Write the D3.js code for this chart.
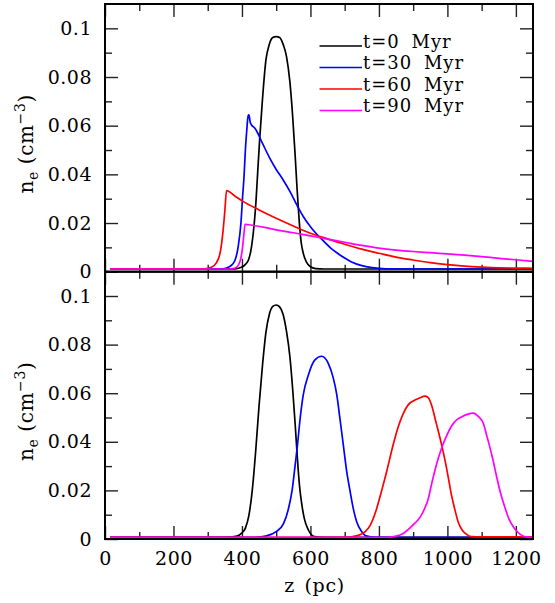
<!DOCTYPE html>
<html><head><meta charset="utf-8">
<script src="https://cdn.jsdelivr.net/npm/d3@7"></script>
<style>
body{margin:0;background:#fff}
text{font-family:"DejaVu Serif",serif;fill:#000}
</style>
</head><body>
<svg id="c" width="555" height="603"></svg>
<script>
// ---------- data ----------
const seriesLabels = ["t=0 Myr", "t=30 Myr", "t=60 Myr", "t=90 Myr"];
const seriesColors = ["#000000", "#0000ff", "#ff0000", "#ff00ff"];

const xMajorTicks = [0, 200, 400, 600, 800, 1000, 1200];
const xMinorTicks = [100, 300, 500, 700, 900, 1100];
const yMajorTicks = [0, 0.02, 0.04, 0.06, 0.08, 0.1];
const yTickLabels = ["0", "0.02", "0.04", "0.06", "0.08", "0.1"];
const yMinorTicks = [0.01, 0.03, 0.05, 0.07, 0.09];

// top panel: z (pc), n_e (cm^-3)
const topT0 = [[15,0.0011],[300,0.0011],[380,0.0012],[400,0.0019],[410,0.003],[419,0.0048],[428,0.0103],[436,0.02],[441,0.029],[446,0.041],[452,0.055],[460,0.071],[470,0.087],[480,0.0935],[490,0.0962],[500,0.0966],[510,0.0962],[520,0.0935],[530,0.0885],[540,0.078],[548,0.064],[555,0.0486],[561,0.034],[567,0.0212],[573,0.012],[579,0.0076],[588,0.004],[600,0.002],[615,0.0013],[640,0.0011],[1250,0.0011]];
const topT30 = [[15,0.0011],[320,0.0011],[345,0.0012],[360,0.0018],[372,0.003],[380,0.0048],[389,0.0103],[397,0.02],[402,0.031],[406,0.039],[410,0.05],[414,0.058],[417,0.063],[419,0.0644],[421,0.0641],[424,0.0615],[428,0.0603],[432,0.0597],[438,0.0589],[460,0.0527],[480,0.047],[500,0.042],[520,0.0378],[540,0.033],[560,0.0275],[580,0.0225],[600,0.0185],[620,0.0152],[640,0.0124],[660,0.0096],[680,0.0075],[700,0.0056],[720,0.004],[750,0.0025],[780,0.0017],[820,0.0012],[900,0.0011],[1250,0.0011]];
const topT60 = [[15,0.0011],[290,0.0012],[311,0.0018],[324,0.0034],[336,0.0076],[345,0.0171],[350,0.025],[355,0.0333],[380,0.031],[404,0.0288],[450,0.0254],[500,0.022],[550,0.0188],[600,0.0158],[650,0.0135],[700,0.0113],[750,0.0093],[800,0.0076],[850,0.006],[900,0.0048],[950,0.0037],[1000,0.0029],[1050,0.0023],[1100,0.0019],[1150,0.0016],[1200,0.0015],[1250,0.0014]];
const topT90 = [[15,0.0011],[360,0.0011],[380,0.0015],[394,0.0041],[402,0.0103],[406,0.0158],[409,0.0195],[420,0.0193],[467,0.0182],[500,0.0172],[550,0.016],[600,0.0147],[650,0.0134],[700,0.0121],[750,0.0108],[800,0.0097],[850,0.0089],[900,0.0083],[950,0.0078],[1000,0.0073],[1050,0.0068],[1100,0.0062],[1150,0.0055],[1200,0.0049],[1250,0.0042]];

// bottom panel
const botT0 = [[15,0.0007],[350,0.0007],[385,0.0012],[400,0.0025],[410,0.0045],[420,0.0095],[430,0.0199],[440,0.036],[450,0.055],[460,0.0715],[470,0.085],[480,0.0925],[490,0.0957],[500,0.0963],[510,0.0955],[520,0.0925],[530,0.0855],[540,0.075],[549,0.06],[556,0.046],[562,0.033],[568,0.022],[575,0.014],[582,0.0085],[594,0.0037],[612,0.001],[640,0.0007],[1250,0.0007]];
const botT30 = [[15,0.0007],[440,0.0007],[472,0.0013],[500,0.003],[521,0.0062],[535,0.012],[547,0.0205],[555,0.03],[562,0.0385],[570,0.0497],[579,0.0593],[594,0.0675],[613,0.0737],[633,0.0752],[652,0.0723],[667,0.0661],[677,0.0593],[686,0.0497],[696,0.0387],[706,0.0277],[716,0.0195],[725,0.0126],[735,0.0071],[750,0.003],[762,0.0013],[790,0.0007],[1250,0.0007]];
const botT60 = [[15,0.0007],[700,0.0007],[740,0.0015],[760,0.003],[774,0.0055],[790,0.011],[808,0.0199],[823,0.028],[842,0.039],[856,0.046],[871,0.0516],[886,0.0553],[900,0.0568],[918,0.058],[935,0.0588],[945,0.058],[955,0.0545],[965,0.049],[975,0.0435],[986,0.037],[995,0.031],[1003,0.025],[1012,0.018],[1022,0.012],[1032,0.0068],[1044,0.0035],[1058,0.0017],[1071,0.001],[1100,0.0009],[1250,0.0009]];
const botT90 = [[15,0.0007],[820,0.0007],[850,0.0012],[871,0.0023],[890,0.0045],[905,0.0065],[920,0.0089],[935,0.013],[944,0.0165],[954,0.0227],[964,0.0285],[975,0.034],[986,0.0385],[1000,0.0432],[1010,0.046],[1020,0.048],[1030,0.0493],[1045,0.0505],[1060,0.0514],[1075,0.0518],[1090,0.0505],[1105,0.0475],[1115,0.0425],[1124,0.0378],[1134,0.032],[1144,0.0255],[1155,0.019],[1168,0.013],[1180,0.0082],[1195,0.0045],[1212,0.002],[1228,0.0009],[1250,0.0007]];

const topSeries = [topT0, topT30, topT60, topT90];
const botSeries = [botT0, botT30, botT60, botT90];

// ---------- layout ----------
const svg = d3.select("#c");
const L = 105, R = 533;
const panels = [
  {top: 4, bottom: 271.7, series: topSeries, labels: false, legend: true},
  {top: 271.7, bottom: 539, series: botSeries, labels: true, legend: false}
];
const x = d3.scaleLinear().domain([0, 1250]).range([L, R]);
const FS = 19, MAJ = 13, MIN = 7;

function styleAxis(g) {
  g.select(".domain").remove();
  g.selectAll(".tick line").attr("stroke", "#222").attr("stroke-width", 1.4);
  g.selectAll(".tick text").attr("font-family", '"DejaVu Serif", serif').attr("font-size", FS)
    .attr("letter-spacing", 0.5).attr("fill", "#000");
}

panels.forEach((p, pi) => {
  const y = d3.scaleLinear().domain([0, 0.11]).range([p.bottom, p.top]);

  // left
  svg.append("g").attr("transform", `translate(${L},0)`)
    .call(d3.axisLeft(y).tickValues(yMajorTicks).tickSize(-MAJ).tickPadding(13)
      .tickFormat((d, i) => yTickLabels[i])).call(styleAxis);
  svg.append("g").attr("transform", `translate(${L},0)`)
    .call(d3.axisLeft(y).tickValues(yMinorTicks).tickSize(-MIN).tickFormat("")).call(styleAxis);
  // right
  svg.append("g").attr("transform", `translate(${R},0)`)
    .call(d3.axisRight(y).tickValues(yMajorTicks).tickSize(-MAJ).tickFormat("")).call(styleAxis);
  svg.append("g").attr("transform", `translate(${R},0)`)
    .call(d3.axisRight(y).tickValues(yMinorTicks).tickSize(-MIN).tickFormat("")).call(styleAxis);
  // top
  svg.append("g").attr("transform", `translate(0,${p.top})`)
    .call(d3.axisTop(x).tickValues(xMajorTicks).tickSize(-MAJ).tickFormat("")).call(styleAxis);
  svg.append("g").attr("transform", `translate(0,${p.top})`)
    .call(d3.axisTop(x).tickValues(xMinorTicks).tickSize(-MIN).tickFormat("")).call(styleAxis);
  // bottom
  svg.append("g").attr("transform", `translate(0,${p.bottom})`)
    .call(d3.axisBottom(x).tickValues(xMajorTicks).tickSize(-MAJ).tickPadding(13)
      .tickFormat(p.labels ? d3.format("d") : "")).call(styleAxis);
  svg.append("g").attr("transform", `translate(0,${p.bottom})`)
    .call(d3.axisBottom(x).tickValues(xMinorTicks).tickSize(-MIN).tickFormat("")).call(styleAxis);

  // clip
  const cid = "clip" + pi;
  svg.append("clipPath").attr("id", cid).append("rect")
    .attr("x", L).attr("y", p.top).attr("width", R - L).attr("height", p.bottom - p.top);

  const line = d3.line().x(d => x(d[0])).y(d => y(d[1])).curve(d3.curveMonotoneX);
  svg.append("g").attr("clip-path", `url(#${cid})`)
    .selectAll("path").data(p.series).join("path")
    .attr("d", line).attr("fill", "none")
    .attr("stroke", (d, i) => seriesColors[i]).attr("stroke-width", 1.7);

  // y label
  const cy = (p.top + p.bottom) / 2 + 6;
  const t = svg.append("text").attr("transform", `translate(33,${cy}) rotate(-90)`)
    .attr("text-anchor", "middle").attr("font-size", 20).attr("letter-spacing", 0.6);
  t.append("tspan").text("n");
  t.append("tspan").attr("font-size", 14).attr("dy", 5).text("e");
  t.append("tspan").attr("dy", -5).text("\u00a0(cm");
  t.append("tspan").attr("font-size", 14).attr("dy", -8).text("\u22123");
  t.append("tspan").attr("dy", 8).text(")");

  if (p.legend) {
    const lg = svg.append("g");
    seriesLabels.forEach((s, i) => {
      const yy = 46 + i * 21.5;
      lg.append("line").attr("x1", 319.5).attr("x2", 362).attr("y1", yy).attr("y2", yy)
        .attr("stroke", seriesColors[i]).attr("stroke-width", 1.7);
      lg.append("text").attr("x", 363).attr("y", yy + 1.5).attr("font-size", 18)
        .attr("letter-spacing", 1).attr("word-spacing", 5).text(s);
    });
  }
});

// frames
panels.forEach(p => {
  svg.append("rect").attr("x", L).attr("y", p.top).attr("width", R - L).attr("height", p.bottom - p.top)
    .attr("fill", "none").attr("stroke", "#000").attr("stroke-width", 2);
});

// x label
svg.append("text").attr("x", 314.5).attr("y", 592).attr("text-anchor", "middle")
  .attr("font-size", 19).attr("letter-spacing", 0.6).attr("word-spacing", 3).text("z (pc)");
</script>
</body></html>
